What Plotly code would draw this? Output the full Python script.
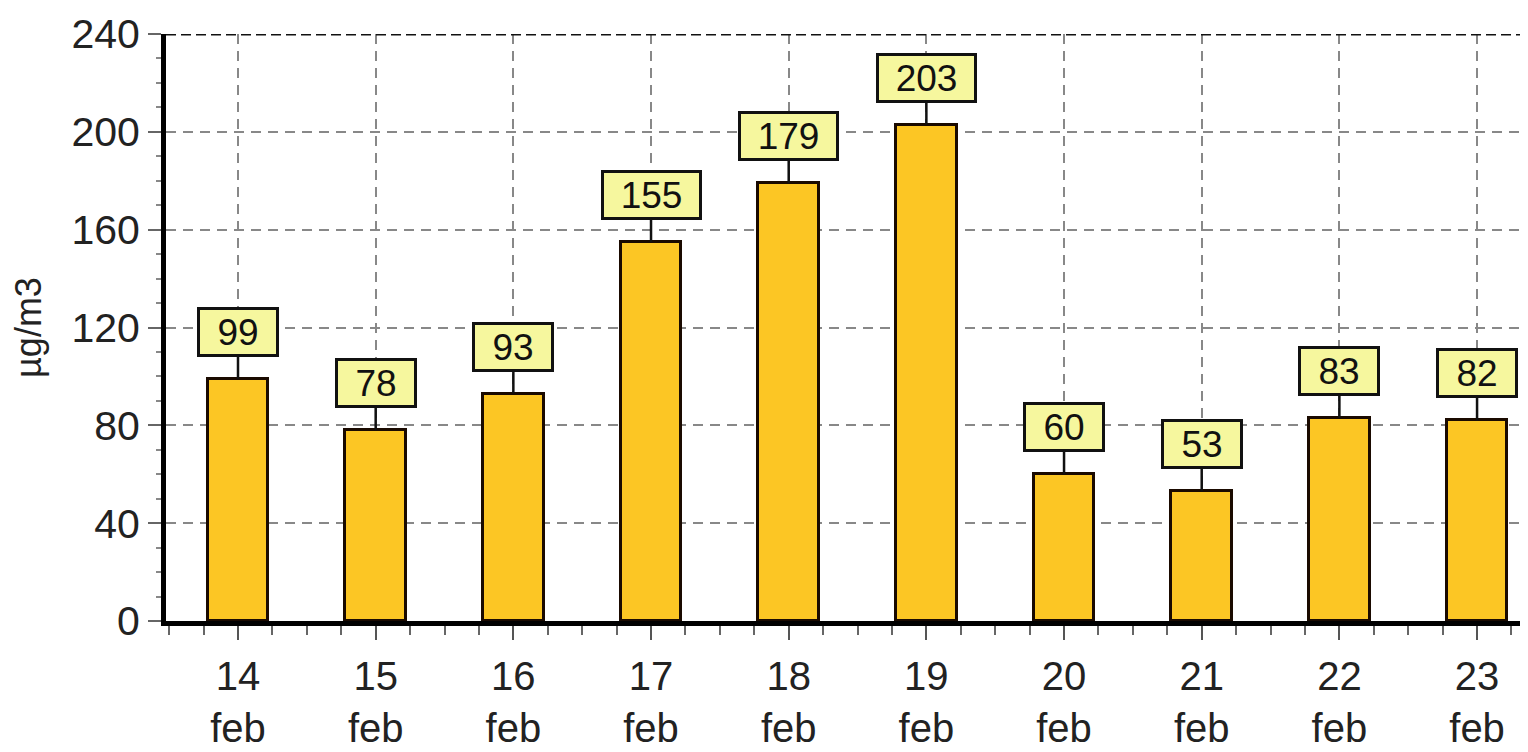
import plotly.graph_objects as go

days = ["14", "15", "16", "17", "18", "19", "20", "21", "22", "23"]
month = "feb"
values = [99, 78, 93, 155, 179, 203, 60, 53, 83, 82]
y_ticks = [0, 40, 80, 120, 160, 200, 240]
y_title = "µg/m3"

x_pos = list(range(len(days)))
tick_text = [f"{d}<br>{month}" for d in days]

FONT = "Liberation Sans, Arial, sans-serif"

fig = go.Figure()
fig.add_trace(go.Bar(
    x=x_pos, y=values, width=0.44,
    marker=dict(color="#FCC624", line=dict(color="#1a0a00", width=3)),
    hoverinfo="skip",
))

for x, v in zip(x_pos, values):
    s = str(v)
    fig.add_annotation(
        x=x, y=v, xref="x", yref="y", text=s,
        showarrow=True, arrowhead=0, arrowwidth=2.5, arrowcolor="#111",
        ax=0, ay=-47, standoff=0,
        bgcolor="#F6F79E", bordercolor="#111", borderwidth=3, borderpad=1,
        width=36 + 19 * len(s), height=42,
        font=dict(family=FONT, size=37, color="#111"),
    )

# dark dashed top line at 240
fig.add_shape(type="line", xref="paper", yref="y", x0=0, x1=1, y0=240, y1=240,
              line=dict(color="#111", width=3, dash="10px,5px"))

fig.update_layout(
    width=1520, height=744,
    margin=dict(l=158, r=0, t=26, b=131),
    paper_bgcolor="white", plot_bgcolor="white",
    showlegend=False,
    bargap=0,
)
fig.update_xaxes(
    range=[-0.523, 9.37], automargin=False,
    tickmode="array", tickvals=x_pos, ticktext=tick_text,
    tickfont=dict(family=FONT, size=40, color="#222"),
    ticks="outside", ticklen=14, tickwidth=2, tickcolor="#555",
    minor=dict(dtick=0.25, tick0=0, ticks="outside", ticklen=9, tickwidth=2, tickcolor="#666", showgrid=False),
    showgrid=True, gridcolor="#888", gridwidth=2, griddash="10px,7px",
    showline=True, linecolor="#000", linewidth=5,
    zeroline=False, ticklabelstandoff=2,
)
fig.update_yaxes(
    range=[0, 240], automargin=False,
    tickmode="array", tickvals=y_ticks,
    tickfont=dict(family=FONT, size=41, color="#222"),
    ticks="outside", ticklen=13, tickwidth=2, tickcolor="#666",
    minor=dict(dtick=10, tick0=0, ticks="outside", ticklen=5, tickwidth=2, tickcolor="#888", showgrid=False),
    showgrid=True, gridcolor="#888", gridwidth=2, griddash="10px,7px",
    showline=True, linecolor="#000", linewidth=5,
    zeroline=False,
    title=dict(text=y_title, font=dict(family=FONT, size=36, color="#222"), standoff=22),
)

fig.write_html("out.html")
